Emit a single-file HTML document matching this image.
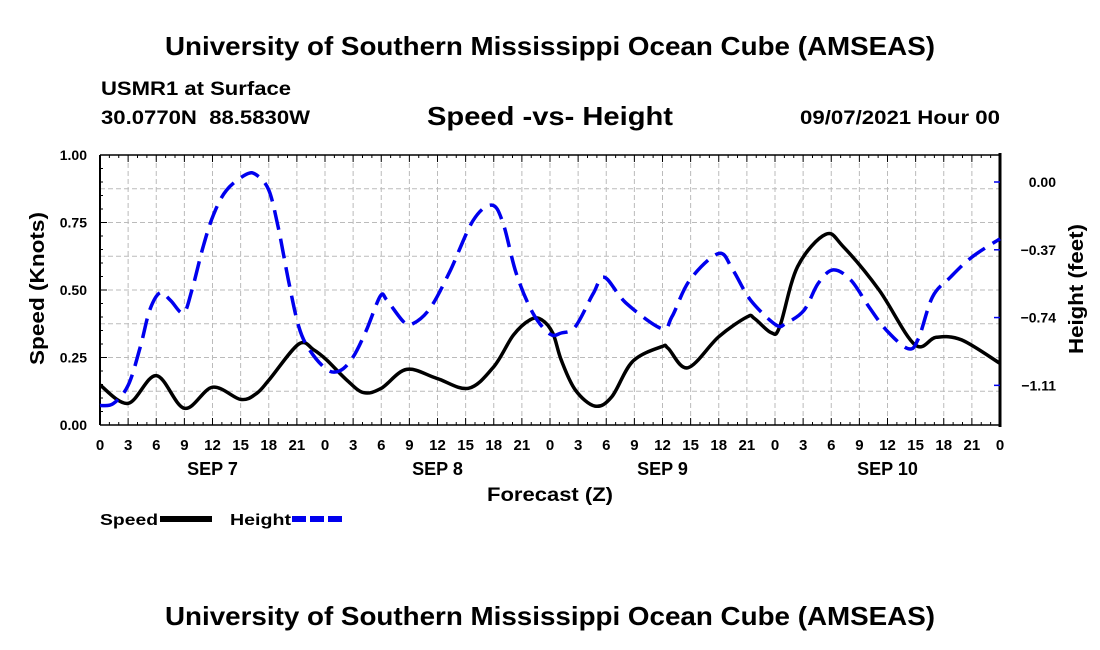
<!DOCTYPE html>
<html><head><meta charset="utf-8"><style>
body{margin:0;background:#fff;width:1100px;height:650px;overflow:hidden}
svg{display:block;font-family:"Liberation Sans",sans-serif;font-weight:bold}
</style></head><body>
<svg id="chart" width="1100" height="650" viewBox="0 0 1100 650">
<text x="165" y="55" font-size="26" textLength="770" lengthAdjust="spacingAndGlyphs">University of Southern Mississippi Ocean Cube (AMSEAS)</text>
<text x="101" y="95" font-size="19" textLength="190" lengthAdjust="spacingAndGlyphs">USMR1 at Surface</text>
<text x="101" y="124" font-size="19" textLength="209" lengthAdjust="spacingAndGlyphs" xml:space="preserve">30.0770N  88.5830W</text>
<text x="427" y="125" font-size="26" textLength="246" lengthAdjust="spacingAndGlyphs">Speed -vs- Height</text>
<text x="800" y="124" font-size="19" textLength="200" lengthAdjust="spacingAndGlyphs">09/07/2021 Hour 00</text>
<g id="grid"></g>
<g id="axes"></g>
<g id="series"></g>
<text transform="translate(44,365) rotate(-90)" font-size="20" textLength="153" lengthAdjust="spacingAndGlyphs">Speed (Knots)</text>
<text transform="translate(1083,354) rotate(-90)" font-size="20" textLength="130" lengthAdjust="spacingAndGlyphs">Height (feet)</text>
<text x="487" y="501" font-size="19" textLength="126" lengthAdjust="spacingAndGlyphs">Forecast (Z)</text>
<g>
<text x="100" y="525" font-size="16" textLength="58" lengthAdjust="spacingAndGlyphs">Speed</text>
<line x1="160" y1="519" x2="212" y2="519" stroke="#000" stroke-width="6"/>
<text x="230" y="525" font-size="16" textLength="61" lengthAdjust="spacingAndGlyphs">Height</text>
<line x1="292" y1="519" x2="342" y2="519" stroke="#0000ee" stroke-width="6" stroke-dasharray="14,4"/>
</g>
<text x="165" y="625" font-size="26" textLength="770" lengthAdjust="spacingAndGlyphs">University of Southern Mississippi Ocean Cube (AMSEAS)</text>
</svg>
<script>
const speedHours=[0,3,6,9,12,15,16.7,18.1,21.2,22.8,24.2,26.3,28.1,30,32.7,35.9,39.3,42,44.1,45.9,47.1,48.3,49.2,50.7,52.8,54.6,56.8,59.9,60.6,62.7,66,69,69.8,71.6,72.5,74.4,77.4,79.3,83.1,86.9,89.2,91.9,96];
const speedValues=[0.148,0.08,0.183,0.062,0.14,0.095,0.117,0.17,0.30,0.278,0.24,0.167,0.12,0.136,0.206,0.173,0.136,0.216,0.333,0.39,0.39,0.34,0.24,0.13,0.07,0.105,0.235,0.29,0.284,0.212,0.327,0.40,0.395,0.342,0.364,0.586,0.706,0.66,0.5,0.298,0.325,0.315,0.228];
const heightHours=[0,1.4,3,4.3,5.3,6.4,7.5,8.9,9.8,11,12.1,13.5,15.6,16.7,18,19,20.1,21.2,22.4,24.2,25.6,27,28.4,29.9,30.6,32.4,33.4,35.2,37.3,39.8,41.8,43,44.4,46.2,48,49.2,50.7,52.6,53.8,56.1,59.9,61,62.9,66,67.5,69.4,72.1,73.2,75.1,76.6,78.2,80.1,82,83.9,86.2,87.3,88.8,90.7,93,96];
const heightValues=[-1.22,-1.21,-1.11,-0.90,-0.70,-0.605,-0.645,-0.715,-0.59,-0.354,-0.18,-0.044,0.042,0.038,-0.044,-0.244,-0.536,-0.79,-0.92,-1.024,-1.03,-0.955,-0.81,-0.623,-0.645,-0.764,-0.773,-0.69,-0.49,-0.21,-0.126,-0.226,-0.50,-0.718,-0.83,-0.824,-0.79,-0.61,-0.52,-0.66,-0.80,-0.736,-0.536,-0.39,-0.48,-0.645,-0.78,-0.77,-0.70,-0.554,-0.48,-0.536,-0.68,-0.81,-0.91,-0.855,-0.627,-0.52,-0.41,-0.31];
const xTickLabels=["0","3","6","9","12","15","18","21","0","3","6","9","12","15","18","21","0","3","6","9","12","15","18","21","0","3","6","9","12","15","18","21","0"];
const dayLabels=["SEP 7","SEP 8","SEP 9","SEP 10"];
const yTicks=[0,0.25,0.5,0.75,1.0];
const yTickLabels=["0.00","0.25","0.50","0.75","1.00"];
const y2Ticks=[0,-0.37,-0.74,-1.11];
const y2TickLabels=["0.00","\u22120.37","\u22120.74","\u22121.11"];

const L=100,R=1000,T=155,B=425;
const X=h=>L+h*(R-L)/96;
const Y=v=>B-v*(B-T);
const Y2=f=>182-f*183.2;
const NS="http://www.w3.org/2000/svg";
function mk(tag,attrs,parent){const e=document.createElementNS(NS,tag);for(const k in attrs)e.setAttribute(k,attrs[k]);parent.appendChild(e);return e;}
const grid=document.getElementById('grid'),axes=document.getElementById('axes'),series=document.getElementById('series');
for(let i=1;i<32;i++){const l=mk('line',{x1:X(i*3),x2:X(i*3),y1:T,y2:B,stroke:'#bbb','stroke-width':1,'stroke-dasharray':'5,3'},grid);

}
for(let i=1;i<8;i++){const l=mk('line',{x1:L,x2:R,y1:Y(i*0.125),y2:Y(i*0.125),stroke:'#bbb','stroke-width':1,'stroke-dasharray':'5,3'},grid);

}
mk('line',{x1:L,x2:R,y1:T,y2:T,stroke:'#000','stroke-width':1.5},axes);
mk('line',{x1:L,x2:R,y1:B,y2:B,stroke:'#000','stroke-width':1.5},axes);
mk('line',{x1:L,x2:L,y1:T,y2:B,stroke:'#000','stroke-width':2},axes);
mk('line',{x1:R,x2:R,y1:T-2,y2:B+2,stroke:'#000','stroke-width':3},axes);
for(let h=0;h<=96;h++){const len=h%3===0?7:3;
mk('line',{x1:X(h),x2:X(h),y1:B,y2:B-len,stroke:'#000','stroke-width':1},axes);
mk('line',{x1:X(h),x2:X(h),y1:T,y2:T+len,stroke:'#000','stroke-width':1},axes);}
xTickLabels.forEach((t,i)=>{const e=mk('text',{x:X(i*3),y:450,'text-anchor':'middle','font-size':15},axes);e.textContent=t;

});
dayLabels.forEach((t,i)=>{const e=mk('text',{x:X(i*24+12),y:475,'text-anchor':'middle','font-size':18},axes);e.textContent=t;

});
yTicks.forEach((v,i)=>{mk('line',{x1:L,x2:L+7,y1:Y(v),y2:Y(v),stroke:'#000'},axes);
for(let k=1;k<5&&i<4;k++)mk('line',{x1:L,x2:L+3,y1:Y(v+k*0.05),y2:Y(v+k*0.05),stroke:'#000'},axes);
const e=mk('text',{x:87,y:Y(v)+5,'text-anchor':'end','font-size':14},axes);e.textContent=yTickLabels[i];

});
y2Ticks.forEach((f,i)=>{mk('line',{x1:R-6,x2:R,y1:Y2(f),y2:Y2(f),stroke:'#0000ee','stroke-width':1.5},axes);
const e=mk('text',{x:1056,y:Y2(f)+5,'text-anchor':'end','font-size':14},axes);e.textContent=y2TickLabels[i];

});
function path(xs,ys){const p=xs.map((x,i)=>[x,ys[i]]);let d='M'+p[0][0].toFixed(1)+','+p[0][1].toFixed(1);
for(let i=0;i<p.length-1;i++){const p0=p[Math.max(0,i-1)],p1=p[i],p2=p[i+1],p3=p[Math.min(p.length-1,i+2)];
const c1=[p1[0]+(p2[0]-p0[0])/6,p1[1]+(p2[1]-p0[1])/6],c2=[p2[0]-(p3[0]-p1[0])/6,p2[1]-(p3[1]-p1[1])/6];
d+=' C'+c1.map(v=>v.toFixed(1))+' '+c2.map(v=>v.toFixed(1))+' '+p2[0].toFixed(1)+','+p2[1].toFixed(1);}return d;}
const sp=mk('path',{d:path(speedHours.map(X),speedValues.map(Y)),fill:'none',stroke:'#000','stroke-width':3.5,'stroke-linejoin':'round'},series);


const hp=mk('path',{d:path(heightHours.map(X),heightValues.map(Y2)),fill:'none',stroke:'#0000ee','stroke-width':3.5,'stroke-dasharray':'20,9'},series);


</script>
</body></html>
